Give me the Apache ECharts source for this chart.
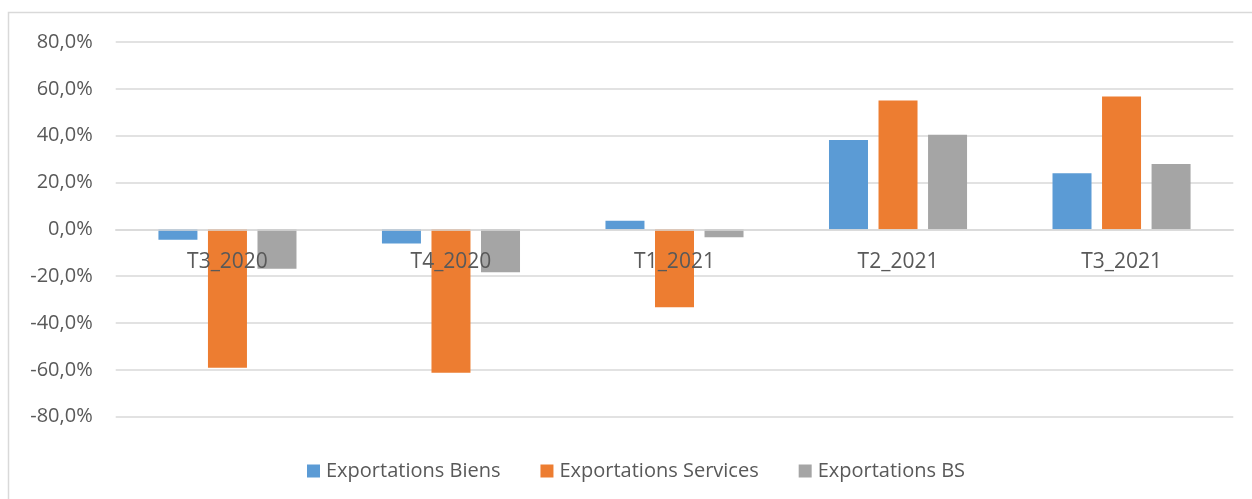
<!DOCTYPE html>
<html>
<head>
<meta charset="utf-8">
<script src="https://cdn.jsdelivr.net/npm/echarts@6/dist/echarts.min.js"></script>
<style>
html,body{margin:0;padding:0;background:#fff;}
#chart{width:1252px;height:499px;}
</style>
</head>
<body>
<div id="chart"></div>
<script>
const categories = ['T3_2020', 'T4_2020', 'T1_2021', 'T2_2021', 'T3_2021'];
const biens = [-4.4, -6.0, 3.7, 38.2, 24.0];
const services = [-59.1, -61.2, -33.3, 55.0, 56.7];
const bs = [-16.8, -18.3, -3.4, 40.4, 27.9];
const seriesNames = ['Exportations Biens', 'Exportations Services', 'Exportations BS'];

const chart = echarts.init(document.getElementById('chart'));
const font = 'Open Sans';
const barStyle = (c) => ({ type: 'bar', barWidth: 39, barGap: '27%', itemStyle: { color: c }, emphasis: { disabled: true } });
chart.setOption({
  animation: false,
  textStyle: { fontFamily: font },
  graphic: [{
    type: 'rect', silent: true,
    shape: { x: 8.5, y: 12.5, width: 1400, height: 700 },
    style: { fill: 'none', stroke: '#d9d9d9', lineWidth: 1.5 }
  }],
  grid: { left: 115.7, right: 18.7, top: 42, bottom: 82.3, containLabel: false },
  legend: {
    left: 302, top: 456,
    itemWidth: 13, itemHeight: 13, itemGap: 40,
    icon: 'rect',
    textStyle: { fontFamily: font, fontSize: 20, color: '#595959', padding: [0, 0, 0, 1] },
    data: seriesNames
  },
  xAxis: {
    type: 'category',
    data: categories,
    z: 10,
    axisLine: { onZero: true, lineStyle: { color: '#d9d9d9', width: 1.5 } },
    axisTick: { show: false },
    axisLabel: { fontFamily: font, fontSize: 21, color: '#595959', margin: -165 }
  },
  yAxis: {
    type: 'value', min: -80, max: 80, interval: 20,
    axisLine: { show: false },
    axisTick: { show: false },
    splitLine: { lineStyle: { color: '#d9d9d9', width: 1.5 } },
    axisLabel: {
      fontFamily: font, fontSize: 20, color: '#595959', margin: 23,
      formatter: v => v.toFixed(1).replace('.', ',') + '%'
    }
  },
  series: [
    Object.assign(barStyle('#5b9bd5'), { name: seriesNames[0], data: biens }),
    Object.assign(barStyle('#ed7d31'), { name: seriesNames[1], data: services }),
    Object.assign(barStyle('#a5a5a5'), { name: seriesNames[2], data: bs })
  ]
});
</script>
</body>
</html>
